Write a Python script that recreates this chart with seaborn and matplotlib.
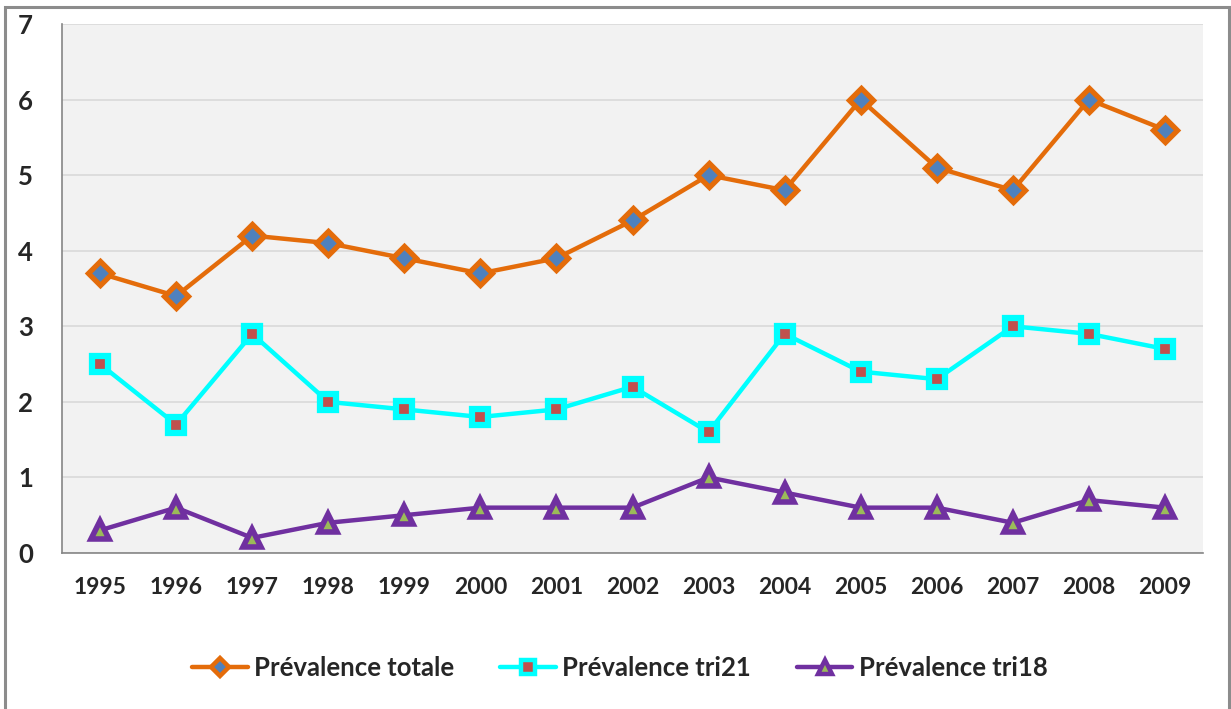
import matplotlib
matplotlib.use("Agg")
import matplotlib.pyplot as plt
from matplotlib.patches import Rectangle
from matplotlib.ticker import FixedLocator
import seaborn as sns
import pandas as pd

years = ["1995", "1996", "1997", "1998", "1999", "2000", "2001", "2002",
         "2003", "2004", "2005", "2006", "2007", "2008", "2009"]
prev_totale = [3.7, 3.4, 4.2, 4.1, 3.9, 3.7, 3.9, 4.4, 5.0, 4.8, 6.0, 5.1, 4.8, 6.0, 5.6]
prev_tri21 = [2.5, 1.7, 2.9, 2.0, 1.9, 1.8, 1.9, 2.2, 1.6, 2.9, 2.4, 2.3, 3.0, 2.9, 2.7]
prev_tri18 = [0.3, 0.6, 0.2, 0.4, 0.5, 0.6, 0.6, 0.6, 1.0, 0.8, 0.6, 0.6, 0.4, 0.7, 0.6]

sns.set_style("white")
plt.rcParams["font.family"] = ["Lato", "DejaVu Sans"]
plt.rcParams["font.weight"] = "bold"

fig = plt.figure(figsize=(12.31, 7.09), dpi=100)
ax = fig.add_axes([62 / 1231, 1 - 553 / 709, (1203 - 62) / 1231, (553 - 24) / 709])
ax.set_facecolor("#F2F2F2")

df = pd.DataFrame({"year": years, "totale": prev_totale,
                   "tri21": prev_tri21, "tri18": prev_tri18})

series = [
    ("totale", "Prévalence totale", "#E46C0A", "D", "#4F81BD", 12, 3.8),
    ("tri21", "Prévalence tri21", "#00FFFF", "s", "#C0504D", 12, 4.5),
    ("tri18", "Prévalence tri18", "#7030A0", "^", "#9BBB59", 13, 4.0),
]
for col, label, color, mk, face, ms, mew in series:
    sns.lineplot(data=df, x="year", y=col, ax=ax, label=label, color=color,
                 linewidth=3.2, marker=mk, markersize=ms,
                 markerfacecolor=face, markeredgecolor=color,
                 markeredgewidth=mew, zorder=3, clip_on=False)

ax.set_xlim(-0.5, len(years) - 0.5)
ax.set_ylim(0, 7)
ax.set_yticks(range(0, 8))
ax.yaxis.grid(True, color="#D9D9D9", linewidth=1.2)
ax.set_axisbelow(True)
ax.set_xlabel("")
ax.set_ylabel("")

for s in ["top", "right"]:
    ax.spines[s].set_visible(False)
for s in ["left", "bottom"]:
    ax.spines[s].set_color("#868686")
    ax.spines[s].set_linewidth(1.2)

ax.xaxis.set_minor_locator(FixedLocator([i - 0.5 for i in range(len(years) + 1)]))
ax.tick_params(axis="x", which="major", length=0, pad=17, labelsize=16.5)
ax.tick_params(axis="x", which="minor", length=8, width=1.2, color="#868686", direction="out")
ax.tick_params(axis="y", which="major", length=8, width=1.2, color="#868686",
               direction="out", pad=13, labelsize=18.5)
for lbl in ax.get_xticklabels() + ax.get_yticklabels():
    lbl.set_fontweight("bold")

leg = ax.legend(loc="center", bbox_to_anchor=(620 / 1231, (709 - 668) / 709),
                bbox_transform=fig.transFigure, ncol=3, frameon=False,
                prop={"weight": "bold", "size": 18.5}, handlelength=2.15,
                handletextpad=0.25, columnspacing=1.8)
for h in leg.legend_handles:
    h.set_markersize(9.5)
    h.set_markeredgewidth(3.2)

fig.patches.append(Rectangle((5 / 1231, -0.05), (1229 - 5) / 1231, 1.05 - 7 / 709,
                             transform=fig.transFigure, fill=False,
                             edgecolor="#8C8C8C", linewidth=2.2, zorder=10))

fig.savefig("out.png", dpi=100)
